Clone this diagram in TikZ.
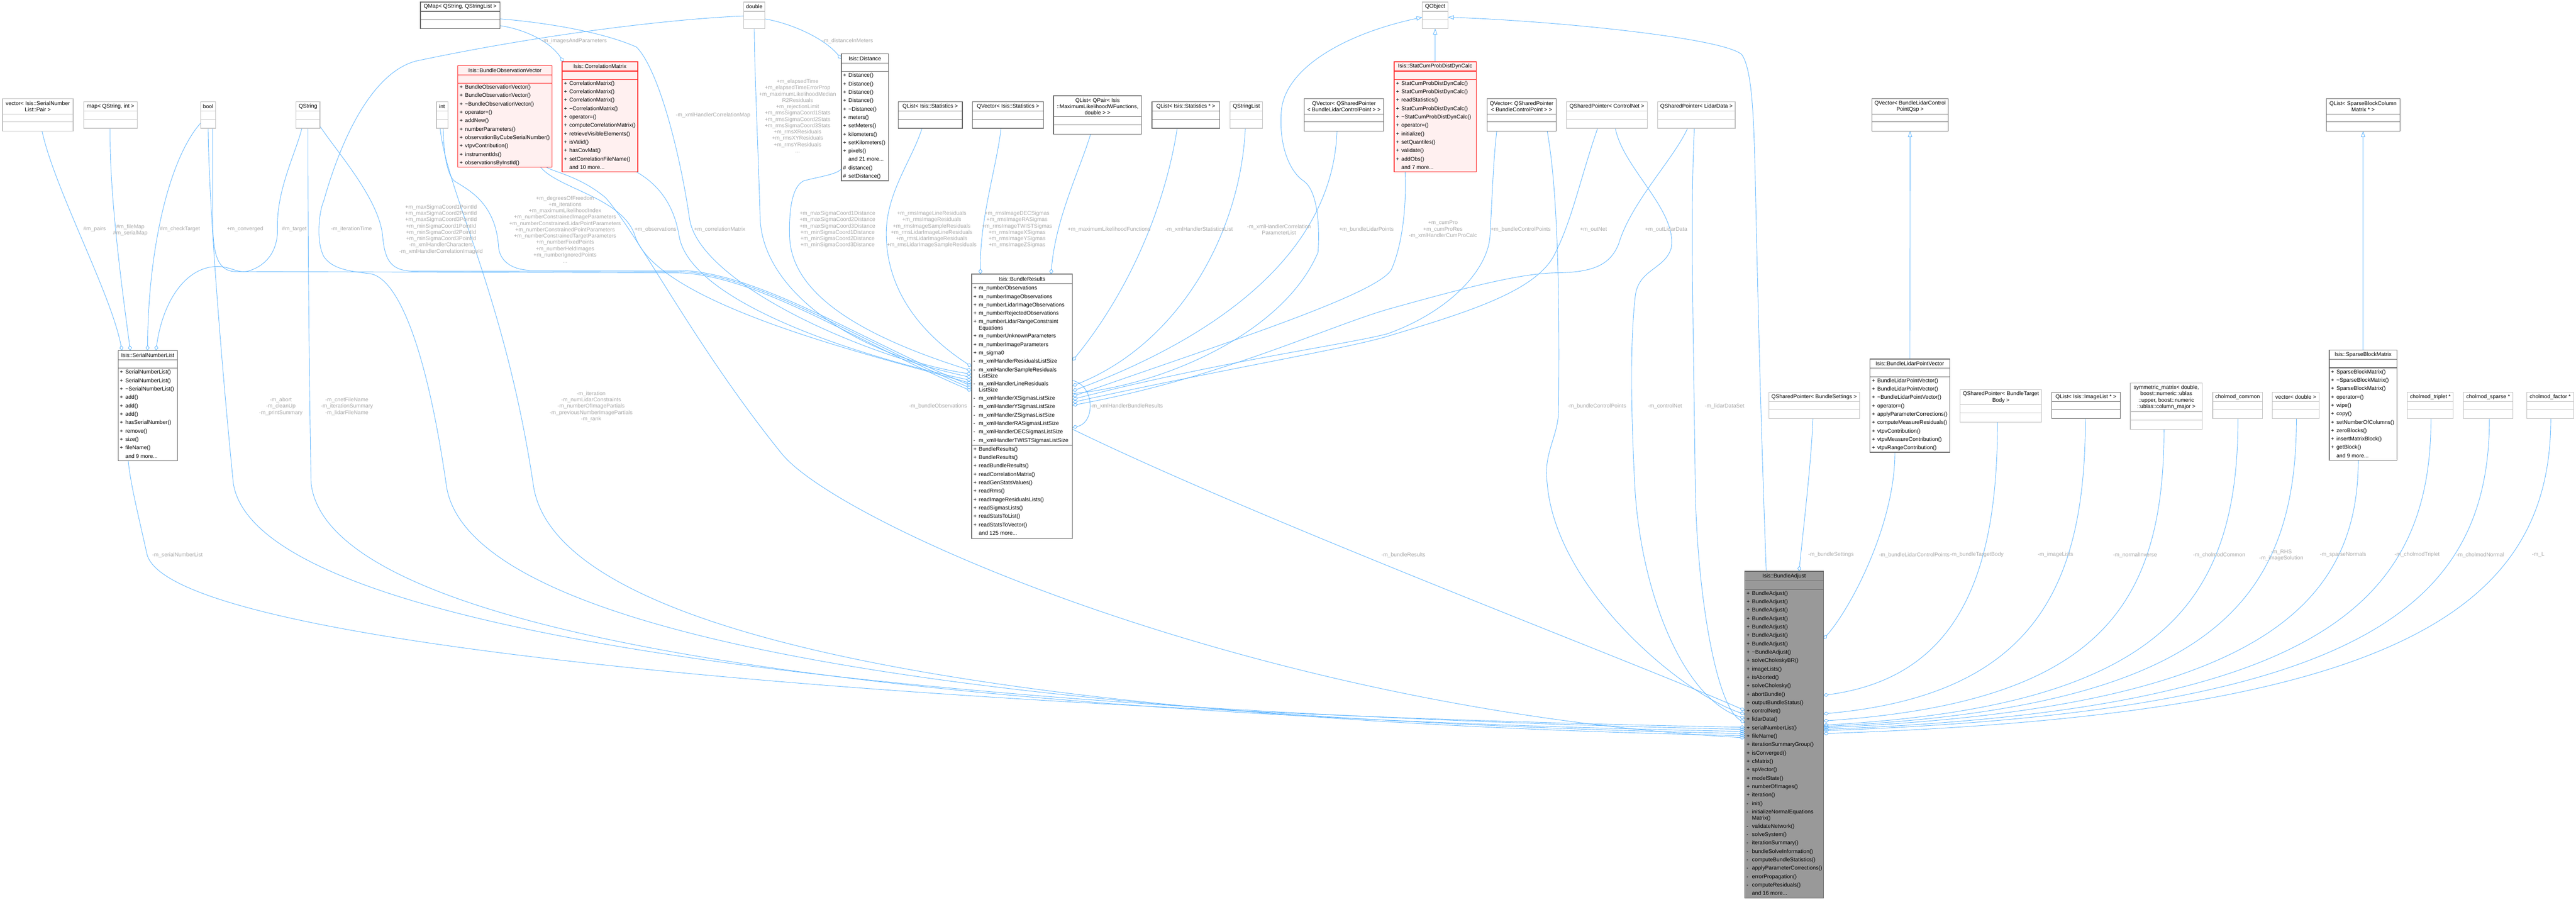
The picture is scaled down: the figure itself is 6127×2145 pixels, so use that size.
\documentclass[tikz,border=0pt]{standalone}
\usepackage{fontspec}
\setmainfont{Liberation Sans}
\usetikzlibrary{arrows.meta}
\pgfdeclarelayer{bg}
\pgfsetlayers{bg,main}
\definecolor{eblue}{HTML}{63B8FF}
\definecolor{dkb}{HTML}{666666}
\definecolor{ltb}{HTML}{BFBFBF}
\definecolor{redb}{HTML}{FF2020}
\definecolor{redf}{HTML}{FFF0F0}
\definecolor{baf}{HTML}{999999}
\definecolor{lblc}{HTML}{A8A8A8}
\newcommand\bxfont{\fontsize{13}{15}\selectfont}
\newcommand\mydots{...}
\newcommand\cls[9]{%
  \node[#2, anchor=north west, minimum width=#5pt, minimum height={(#6+#7+#8)*1pt}, inner sep=0pt, outer sep=0pt] (#1) at (#3,#4) {};
  \draw[#2, fill=none] ([yshift=-#6pt]#1.north west) -- ([yshift=-#6pt]#1.north east);
  \draw[#2, fill=none] ([yshift={-(#6+#7)*1pt}]#1.north west) -- ([yshift={-(#6+#7)*1pt}]#1.north east);
  \node[hdr] at ([yshift={-#6*0.5pt}]#1.north) {#9};
}
\newcommand\mrow[4]{%
  \node[rowtxt] at ([xshift=4pt, yshift={-(#2)*1pt}]#1.north west) {#3};
  \node[rowtxt] at ([xshift=17pt, yshift={-(#2)*1pt}]#1.north west) {#4};
}
\newcommand\mlist[3]{%
  \foreach \mpre/\mtxt [count=\mi from 0] in {#3}{\mrow{#1}{#2+20*\mi}{\mpre}{\mtxt}}%
}
\begin{document}
\catcode`\_=12
\begin{tikzpicture}[x=1pt,y=-1pt,
  boxdk/.style={draw=dkb, fill=white, line width=1.5pt},
  boxlt/.style={draw=ltb, fill=white, line width=1.5pt},
  boxred/.style={draw=redb, fill=redf, line width=1.5pt},
  boxgry/.style={draw=dkb, fill=baf, line width=1.5pt},
  hdr/.style={font=\bxfont, align=center, inner sep=0pt},
  rowtxt/.style={font=\bxfont, anchor=west, inner sep=0pt, text height=9.5pt, text depth=2.5pt},
  lbl/.style={font=\bxfont, text=lblc, align=center, inner sep=0pt},
  comp/.style={draw=eblue, line width=1.1pt, arrows={{Diamond[open,length=13pt,width=9pt]}-}},
  inh/.style={draw=eblue, line width=1.1pt, arrows={{Triangle[open,length=14pt,width=10pt]}-}}]
\useasboundingbox (0,0) rectangle (6127,2145);

% ---------------- boxes ----------------
\cls{qmap}{boxdk}{1000}{5}{189}{22}{20}{21}{QMap< QString, QStringList >}
\cls{dbl}{boxlt}{1769}{5}{50}{22}{20}{21}{double}
\cls{qobj}{boxlt}{3383}{5}{61}{22}{20}{21}{QObject}
\cls{vecpair}{boxlt}{6}{235}{168}{36}{19}{22}{vector< Isis::SerialNumber\\List::Pair >}
\cls{map}{boxlt}{199}{242}{128}{22}{20}{21}{map< QString, int >}
\cls{bool}{boxlt}{477}{242}{36}{22}{20}{21}{bool}
\cls{qstr}{boxlt}{704}{242}{57}{22}{20}{21}{QString}
\cls{int}{boxlt}{1038}{242}{27}{22}{20}{21}{int}
\cls{bov}{boxred}{1089}{156}{224}{22}{20}{200}{Isis::BundleObservationVector}
\mlist{bov}{52}{+/BundleObservationVector(), +/BundleObservationVector(), +/\textasciitilde BundleObservationVector(), +/operator=(), +/addNew(), +/numberParameters(), +/observationByCubeSerialNumber(), +/vtpvContribution(), +/instrumentIds(), +/observationsByInstId()}
\cls{corr}{boxred}{1337}{147}{180}{22}{20}{220}{Isis::CorrelationMatrix}
\mlist{corr}{52}{+/CorrelationMatrix(), +/CorrelationMatrix(), +/CorrelationMatrix(), +/\textasciitilde CorrelationMatrix(), +/operator=(), +/computeCorrelationMatrix(), +/retrieveVisibleElements(), +/isValid(), +/hasCovMat(), +/setCorrelationFileName(), {}/and 10 more\mydots}
\cls{dist}{boxdk}{2001}{128}{112}{22}{20}{260}{Isis::Distance}
\mlist{dist}{52}{+/Distance(), +/Distance(), +/Distance(), +/Distance(), +/\textasciitilde Distance(), +/meters(), +/setMeters(), +/kilometers(), +/setKilometers(), +/pixels(), {}/and 21 more\mydots, \#/distance(), \#/setDistance()}
\cls{qlstat}{boxdk}{2136}{242}{153}{22}{20}{21}{QList< Isis::Statistics >}
\cls{qvstat}{boxdk}{2313}{242}{169}{22}{20}{21}{QVector< Isis::Statistics >}
\cls{qlpair}{boxdk}{2506}{228}{209}{50}{19}{22}{QList< QPair< Isis\\::MaximumLikelihoodWFunctions,\\double > >}
\cls{qlstatp}{boxdk}{2740}{242}{161}{22}{20}{21}{QList< Isis::Statistics * >}
\cls{qsl}{boxlt}{2926}{242}{77}{22}{20}{21}{QStringList}
\cls{qvblcp}{boxdk}{3102}{235}{189}{36}{19}{22}{QVector< QSharedPointer\\< BundleLidarControlPoint > >}
\cls{scp}{boxred}{3316}{147}{195}{22}{20}{220}{Isis::StatCumProbDistDynCalc}
\mlist{scp}{52}{+/StatCumProbDistDynCalc(), +/StatCumProbDistDynCalc(), +/readStatistics(), +/StatCumProbDistDynCalc(), +/\textasciitilde StatCumProbDistDynCalc(), +/operator=(), +/initialize(), +/setQuantiles(), +/validate(), +/addObs(), {}/and 7 more\mydots}
\cls{qvbcp}{boxdk}{3537}{235}{164}{36}{19}{22}{QVector< QSharedPointer\\< BundleControlPoint > >}
\cls{qspcn}{boxlt}{3726}{242}{192}{22}{20}{21}{QSharedPointer< ControlNet >}
\cls{qspld}{boxlt}{3943}{242}{184}{22}{20}{21}{QSharedPointer< LidarData >}
\cls{qvblq}{boxdk}{4452}{235}{182}{36}{19}{22}{QVector< BundleLidarControl\\PointQsp >}
\cls{qlsbcm}{boxdk}{5533}{235}{175}{36}{19}{22}{QList< SparseBlockColumn\\Matrix * >}
\cls{snl}{boxdk}{281}{834}{141}{22}{20}{220}{Isis::SerialNumberList}
\mlist{snl}{52}{+/SerialNumberList(), +/SerialNumberList(), +/\textasciitilde SerialNumberList(), +/add(), +/add(), +/add(), +/hasSerialNumber(), +/remove(), +/size(), +/fileName(), {}/and 9 more\mydots}
\cls{br}{boxdk}{2311}{652}{240}{23}{384}{222}{Isis::BundleResults}
\mlist{br}{34}{+/m_numberObservations, +/m_numberImageObservations, +/m_numberLidarImageObservations, +/m_numberRejectedObservations}
\mrow{br}{114}{+}{m_numberLidarRangeConstraint}
\mrow{br}{129}{}{Equations}
\mlist{br}{148}{+/m_numberUnknownParameters, +/m_numberImageParameters, +/m_sigma0, -/m_xmlHandlerResidualsListSize}
\mrow{br}{228}{-}{m_xmlHandlerSampleResiduals}
\mrow{br}{243}{}{ListSize}
\mrow{br}{262}{-}{m_xmlHandlerLineResiduals}
\mrow{br}{277}{}{ListSize}
\mlist{br}{296}{-/m_xmlHandlerXSigmasListSize, -/m_xmlHandlerYSigmasListSize, -/m_xmlHandlerZSigmasListSize, -/m_xmlHandlerRASigmasListSize, -/m_xmlHandlerDECSigmasListSize, -/m_xmlHandlerTWISTSigmasListSize}
\mlist{br}{417}{+/BundleResults(), +/BundleResults(), +/readBundleResults(), +/readCorrelationMatrix(), +/readGenStatsValues(), +/readRms(), +/readImageResidualsLists(), +/readSigmasLists(), +/readStatsToList(), +/readStatsToVector(), {}/and 125 more\mydots}
\cls{blpv}{boxdk}{4448}{854}{189}{22}{20}{180}{Isis::BundleLidarPointVector}
\mlist{blpv}{52}{+/BundleLidarPointVector(), +/BundleLidarPointVector(), +/\textasciitilde BundleLidarPointVector(), +/operator=(), +/applyParameterCorrections(), +/computeMeasureResiduals(), +/vtpvContribution(), +/vtpvMeasureContribution(), +/vtpvRangeContribution()}
\cls{qspbs}{boxlt}{4207}{933}{216}{22}{20}{21}{QSharedPointer< BundleSettings >}
\cls{qspbtb}{boxlt}{4662}{927}{194}{36}{19}{22}{QSharedPointer< BundleTarget\\Body >}
\cls{qlil}{boxdk}{4880}{933}{163}{22}{20}{21}{QList< Isis::ImageList * >}
\cls{symm}{boxlt}{5067}{911}{171}{68}{20}{22}{symmetric_matrix< double,\\ boost::numeric::ublas\\::upper, boost::numeric\\::ublas::column_major >}
\cls{chc}{boxlt}{5263}{933}{118}{22}{20}{21}{cholmod_common}
\cls{vecd}{boxlt}{5405}{933}{111}{22}{20}{21}{vector< double >}
\cls{sbm}{boxdk}{5540}{833}{161}{22}{20}{220}{Isis::SparseBlockMatrix}
\mlist{sbm}{52}{+/SparseBlockMatrix(), +/\textasciitilde SparseBlockMatrix(), +/SparseBlockMatrix(), +/operator=(), +/wipe(), +/copy(), +/setNumberOfColumns(), +/zeroBlocks(), +/insertMatrixBlock(), +/getBlock(), {}/and 9 more\mydots}
\cls{chtr}{boxlt}{5726}{933}{109}{22}{20}{21}{cholmod_triplet *}
\cls{chsp}{boxlt}{5859}{933}{118}{22}{20}{21}{cholmod_sparse *}
\cls{chf}{boxlt}{6010}{933}{111}{22}{20}{21}{cholmod_factor *}
\cls{ba}{boxgry}{4150}{1359}{187}{23}{20}{734}{Isis::BundleAdjust}
\mlist{ba}{53}{+/BundleAdjust(), +/BundleAdjust(), +/BundleAdjust(), +/BundleAdjust(), +/BundleAdjust(), +/BundleAdjust(), +/BundleAdjust(), +/\textasciitilde BundleAdjust(), +/solveCholeskyBR(), +/imageLists(), +/isAborted(), +/solveCholesky(), +/abortBundle(), +/outputBundleStatus(), +/controlNet(), +/lidarData(), +/serialNumberList(), +/fileName(), +/iterationSummaryGroup(), +/isConverged(), +/cMatrix(), +/spVector(), +/modelState(), +/numberOfImages(), +/iteration(), -/init()}
\mrow{ba}{573}{-}{initializeNormalEquations}
\mrow{ba}{588}{}{Matrix()}
\mlist{ba}{607}{-/validateNetwork(), -/solveSystem(), -/iterationSummary(), -/bundleSolveInformation(), -/computeBundleStatistics(), -/applyParameterCorrections(), -/errorPropagation(), -/computeResiduals(), {}/and 16 more\mydots}

% ---------------- edges ----------------
\begin{pgfonlayer}{bg}
\fill[white] (0,0) rectangle (6127,2145);
% SerialNumberList members
\draw[comp] ([xshift=9pt]snl.north west) .. controls (265,700) and (130,450) .. ([xshift=94pt]vecpair.south west);
\draw[comp] ([xshift=29pt]snl.north west) .. controls (285,650) and (260,450) .. ([xshift=63pt]map.south west);
\draw[comp] ([xshift=70pt]snl.north west) .. controls (352,600) and (400,380) .. ([yshift=-51pt]bool.north west);
\draw[comp] ([xshift=90pt]snl.north west) .. controls (385,730) and (430,650) .. (497,636) .. controls (545,627) and (560,652) .. (590,645) .. controls (640,630) and (662,590) .. (660,540) .. controls (658,450) and (705,360) .. ([xshift=14pt]qstr.south west);
% bool
\draw[comp] ([yshift=-278pt]br.north west) .. controls (2050,820) and (1800,652) .. (1611,649) -- (560,646) .. controls (515,645) and (506,600) .. (506,520) -- ([xshift=29pt]bool.south west);
\draw[comp] ([yshift=-376pt]ba.north west) .. controls (2550,1700) and (620,1560) .. (555,1150) .. controls (530,900) and (497,500) .. ([xshift=18pt]bool.south west);
% QString
\draw[comp] ([yshift=-381pt]ba.north west) .. controls (2600,1710) and (790,1580) .. (740,1150) .. controls (735,900) and (732,500) .. (qstr.south);
\draw[comp] ([yshift=-272pt]br.north west) .. controls (2050,815) and (1800,648) .. (1611,646) -- (980,645) .. controls (930,643) and (915,620) .. (910,560) .. controls (900,470) and (800,360) .. ([yshift=-58pt]qstr.north east);
% int
\draw[comp] ([yshift=-391pt]ba.north west) .. controls (2700,1720) and (1320,1570) .. (1268,1150) .. controls (1200,700) and (1060,450) .. ([xshift=9pt]int.south west);
\draw[comp] ([yshift=-266pt]br.north west) .. controls (2050,810) and (1800,645) .. (1611,643) -- (1260,643) .. controls (1215,641) and (1190,620) .. (1186,590) .. controls (1180,480) and (1110,450) .. (1080,430) .. controls (1060,410) and (1055,350) .. ([xshift=16pt]int.south west);
% double
\draw[comp] ([yshift=-12pt]dist.north west) .. controls (1960,90) and (1880,55) .. ([yshift=-40pt]dbl.north east);
\draw[comp] ([yshift=-238pt]br.north west) .. controls (2050,850) and (1815,700) .. (1808,520) .. controls (1803,350) and (1794,150) .. (dbl.south);
\draw[comp] ([yshift=-386pt]ba.north west) .. controls (2700,1715) and (1110,1570) .. (1061,1150) .. controls (1010,800) and (940,660) .. (880,651) .. controls (830,645) and (790,640) .. (770,610) .. controls (750,570) and (760,500) .. (770,478) .. controls (820,300) and (900,160) .. (1000,143) .. controls (1300,80) and (1600,45) .. ([yshift=-33pt]dbl.north west);
% QMap
\draw[comp] ([xshift=3pt]corr.north west) .. controls (1310,100) and (1250,70) .. ([yshift=-56pt]qmap.north east);
\draw[comp] ([yshift=-246pt]br.north west) .. controls (2000,830) and (1660,660) .. (1640,520) .. controls (1620,380) and (1570,170) .. (1514,112) .. controls (1420,70) and (1260,50) .. ([yshift=-40pt]qmap.north east);
% BundleObservationVector
\draw[comp] ([yshift=-260pt]br.north west) .. controls (2050,840) and (1560,720) .. (1510,560) .. controls (1480,470) and (1330,450) .. ([xshift=197pt]bov.south west);
\draw[comp] ([yshift=-396pt]ba.north west) .. controls (3000,1690) and (2000,1250) .. (1860,1080) .. controls (1650,820) and (1520,560) .. (1440,470) .. controls (1380,420) and (1320,410) .. ([xshift=211pt]bov.south west);
% CorrelationMatrix
\draw[comp] ([yshift=-253pt]br.north west) .. controls (2050,850) and (1640,720) .. (1615,560) .. controls (1600,470) and (1550,430) .. ([xshift=177pt]corr.south west);
% Distance
\draw[comp] ([yshift=-230pt]br.north west) .. controls (2050,800) and (1880,700) .. (1878,560) .. controls (1876,480) and (1890,440) .. (1912,430) .. controls (1950,420) and (1990,415) .. ([yshift=-274pt]dist.north west);
% statistics containers
\draw[comp] ([yshift=-220pt]br.north west) .. controls (2200,800) and (2110,700) .. (2108,560) .. controls (2106,460) and (2170,380) .. ([xshift=57pt]qlstat.south west);
\draw[comp] ([xshift=21pt]br.north west) .. controls (2330,520) and (2370,400) .. ([xshift=68pt]qvstat.south west);
\draw[comp] ([xshift=189pt]br.north west) .. controls (2510,520) and (2570,400) .. ([xshift=88pt]qlpair.south west);
\draw[comp] ([yshift=-206pt]br.north east) .. controls (2680,700) and (2770,500) .. ([xshift=60pt]qlstatp.south west);
\draw[comp] ([yshift=-266pt]br.north east) .. controls (2800,820) and (2950,560) .. ([xshift=36pt]qsl.south west);
\draw[comp] ([yshift=-278pt]br.north east) .. controls (2900,800) and (3170,600) .. ([xshift=78pt]qvblcp.south west);
\draw[comp] ([yshift=-291pt]br.north east) .. controls (2900,820) and (3280,700) .. (3310,640) .. controls (3340,570) and (3345,470) .. ([xshift=26pt]scp.south west);
% control points, control net, lidar data
\draw[comp] ([yshift=-298pt]br.north east) .. controls (2900,860) and (3200,820) .. (3300,794) .. controls (3450,740) and (3540,640) .. (3544,560) .. controls (3550,450) and (3552,380) .. ([xshift=23pt]qvbcp.south west);
\draw[comp] ([yshift=-340pt]ba.north west) .. controls (4000,1650) and (3700,1400) .. (3680,1150) .. controls (3670,1080) and (3705,1040) .. (3707,980) .. controls (3710,700) and (3705,450) .. ([xshift=143pt]qvbcp.south west);
\draw[comp] ([yshift=-305pt]br.north east) .. controls (2900,880) and (3200,830) .. (3300,800) .. controls (3500,740) and (3660,690) .. (3700,600) .. controls (3740,520) and (3760,420) .. ([xshift=74pt]qspcn.south west);
\draw[comp] ([yshift=-350pt]ba.north west) .. controls (4000,1660) and (3900,1400) .. (3888,1150) .. controls (3878,950) and (3878,800) .. (3890,700) .. controls (3900,640) and (3960,640) .. (3975,590) .. controls (3990,500) and (3860,400) .. ([xshift=116pt]qspcn.south west);
\draw[comp] ([yshift=-312pt]br.north east) .. controls (2900,900) and (3150,780) .. (3300,736) .. controls (3500,680) and (3620,650) .. (3702,649) .. controls (3790,648) and (3830,630) .. (3850,580) .. controls (3880,480) and (3980,380) .. ([xshift=71pt]qspld.south west);
\draw[comp] ([yshift=-360pt]ba.north west) .. controls (4080,1680) and (4035,1400) .. (4032,1150) .. controls (4028,800) and (4020,500) .. ([xshift=87pt]qspld.south west);
% inheritance
\draw[inh] ([yshift=-36pt]qobj.north west) .. controls (3200,80) and (3060,160) .. (3048,260) .. controls (3040,350) and (3070,410) .. (3100,430) .. controls (3130,450) and (3140,520) .. (3135,600) .. controls (3050,800) and (2750,920) .. ([yshift=-284pt]br.north east);
\draw[inh] (qobj.south) -- (scp.north);
\draw[inh] ([yshift=-36pt]qobj.north east) .. controls (3700,50) and (4100,90) .. (4143,130) .. controls (4170,170) and (4172,300) .. (4176,478) .. controls (4185,900) and (4195,1200) .. ([xshift=51pt]ba.north west);
\draw[inh] (qvblq.south) -- (blpv.north);
\draw[inh] (qlsbcm.south) -- (sbm.north);
% BundleResults self loop and to BundleAdjust
\draw[comp] ([yshift=-365pt]br.north east) .. controls (2605,1005) and (2605,918) .. ([yshift=-253pt]br.north east);
\draw[comp] ([yshift=-331pt]ba.north west) .. controls (3900,1580) and (3000,1240) .. ([yshift=-369pt]br.north east);
\draw[comp] ([yshift=-371pt]ba.north west) .. controls (2500,1700) and (420,1560) .. (350,1320) .. controls (330,1230) and (310,1150) .. ([xshift=24pt]snl.south west);
% right side members of BundleAdjust
\draw[comp] ([xshift=129pt]ba.north west) .. controls (4290,1250) and (4308,1100) .. ([xshift=105pt]qspbs.south west);
\draw[comp] ([yshift=-161pt]ba.north east) .. controls (4400,1450) and (4507,1250) .. ([xshift=59pt]blpv.south west);
\draw[comp] ([yshift=-295pt]ba.north east) .. controls (4668,1610) and (4751,1350) .. ([xshift=89pt]qspbtb.south west);
\draw[comp] ([yshift=-339pt]ba.north east) .. controls (4835,1653) and (4960,1400) .. ([xshift=80pt]qlil.south west);
\draw[comp] ([yshift=-356pt]ba.north east) .. controls (4985,1670) and (5147,1450) .. ([xshift=80pt]symm.south west);
\draw[comp] ([yshift=-366pt]ba.north east) .. controls (5126,1680) and (5323,1450) .. ([xshift=60pt]chc.south west);
\draw[comp] ([yshift=-369pt]ba.north east) .. controls (5237,1683) and (5462,1450) .. ([xshift=57pt]vecd.south west);
\draw[comp] ([yshift=-372pt]ba.north east) .. controls (5355,1686) and (5609,1450) .. ([xshift=69pt]sbm.south west);
\draw[comp] ([yshift=-376pt]ba.north east) .. controls (5493,1690) and (5782,1450) .. ([xshift=56pt]chtr.south west);
\draw[comp] ([yshift=-379pt]ba.north east) .. controls (5604,1693) and (5921,1450) .. ([xshift=62pt]chsp.south west);
\draw[comp] ([yshift=-386pt]ba.north east) .. controls (5700,1700) and (6067,1450) .. ([xshift=57pt]chf.south west);
\end{pgfonlayer}

% ---------------- labels ----------------
\node[lbl] at (225,545) {\#m_pairs};
\node[lbl] at (310,547) {\#m_fileMap\\\#m_serialMap};
\node[lbl] at (428,545) {\#m_checkTarget};
\node[lbl] at (583,545) {+m_converged};
\node[lbl] at (700,545) {\#m_target};
\node[lbl] at (836,545) {-m_iterationTime};
\node[lbl] at (1049,546) {+m_maxSigmaCoord1PointId\\+m_maxSigmaCoord2PointId\\+m_maxSigmaCoord3PointId\\+m_minSigmaCoord1PointId\\+m_minSigmaCoord2PointId\\+m_minSigmaCoord3PointId\\-m_xmlHandlerCharacters\\-m_xmlHandlerCorrelationImageId};
\node[lbl] at (1344,546) {+m_degreesOfFreedom\\+m_iterations\\+m_maximumLikelihoodIndex\\+m_numberConstrainedImageParameters\\+m_numberConstrainedLidarPointParameters\\+m_numberConstrainedPointParameters\\+m_numberConstrainedTargetParameters\\+m_numberFixedPoints\\+m_numberHeldImages\\+m_numberIgnoredPoints\\...};
\node[lbl] at (1559,546) {+m_observations};
\node[lbl] at (1712,546) {+m_correlationMatrix};
\node[lbl] at (1366,98) {-m_imagesAndParameters};
\node[lbl] at (2016,98) {-m_distanceInMeters};
\node[lbl] at (1696,274) {-m_xmlHandlerCorrelationMap};
\node[lbl] at (1897,276) {+m_elapsedTime\\+m_elapsedTimeErrorProp\\+m_maximumLikelihoodMedian\\R2Residuals\\+m_rejectionLimit\\+m_rmsSigmaCoord1Stats\\+m_rmsSigmaCoord2Stats\\+m_rmsSigmaCoord3Stats\\+m_rmsXResiduals\\+m_rmsXYResiduals\\+m_rmsYResiduals\\...};
\node[lbl] at (1992,546) {+m_maxSigmaCoord1Distance\\+m_maxSigmaCoord2Distance\\+m_maxSigmaCoord3Distance\\+m_minSigmaCoord1Distance\\+m_minSigmaCoord2Distance\\+m_minSigmaCoord3Distance};
\node[lbl] at (2216,546) {+m_rmsImageLineResiduals\\+m_rmsImageResiduals\\+m_rmsImageSampleResiduals\\+m_rmsLidarImageLineResiduals\\+m_rmsLidarImageResiduals\\+m_rmsLidarImageSampleResiduals};
\node[lbl] at (2419,546) {+m_rmsImageDECSigmas\\+m_rmsImageRASigmas\\+m_rmsImageTWISTSigmas\\+m_rmsImageXSigmas\\+m_rmsImageYSigmas\\+m_rmsImageZSigmas};
\node[lbl] at (2638,546) {+m_maximumLikelihoodFunctions};
\node[lbl] at (2852,546) {-m_xmlHandlerStatisticsList};
\node[lbl] at (3042,546) {-m_xmlHandlerCorrelation\\ParameterList};
\node[lbl] at (3250,546) {+m_bundleLidarPoints};
\node[lbl] at (3432,546) {+m_cumPro\\+m_cumProRes\\-m_xmlHandlerCumProCalc};
\node[lbl] at (3617,546) {+m_bundleControlPoints};
\node[lbl] at (3790,546) {+m_outNet};
\node[lbl] at (3963,546) {+m_outLidarData};
\node[lbl] at (668,967) {-m_abort\\-m_cleanUp\\-m_printSummary};
\node[lbl] at (825,967) {-m_cnetFileName\\-m_iterationSummary\\-m_lidarFileName};
\node[lbl] at (1406,967) {-m_iteration\\-m_numLidarConstraints\\-m_numberOfImagePartials\\-m_previousNumberImagePartials\\-m_rank};
\node[lbl] at (2231,967) {-m_bundleObservations};
\node[lbl] at (2680,966) {-m_xmlHandlerBundleResults};
\node[lbl] at (3798,966) {-m_bundleControlPoints};
\node[lbl] at (3960,966) {-m_controlNet};
\node[lbl] at (4102,966) {-m_lidarDataSet};
\node[lbl] at (422,1320) {-m_serialNumberList};
\node[lbl] at (3338,1320) {-m_bundleResults};
\node[lbl] at (4355,1320) {-m_bundleSettings};
\node[lbl] at (4553,1320) {-m_bundleLidarControlPoints};
\node[lbl] at (4702,1320) {-m_bundleTargetBody};
\node[lbl] at (4889,1320) {-m_imageLists};
\node[lbl] at (5078,1320) {-m_normalInverse};
\node[lbl] at (5278,1320) {-m_cholmodCommon};
\node[lbl] at (5426,1321) {-m_RHS\\-m_imageSolution};
\node[lbl] at (5573,1320) {-m_sparseNormals};
\node[lbl] at (5749,1320) {-m_cholmodTriplet};
\node[lbl] at (5899,1320) {-m_cholmodNormal};
\node[lbl] at (6037,1320) {-m_L};
\end{tikzpicture}
\end{document}
